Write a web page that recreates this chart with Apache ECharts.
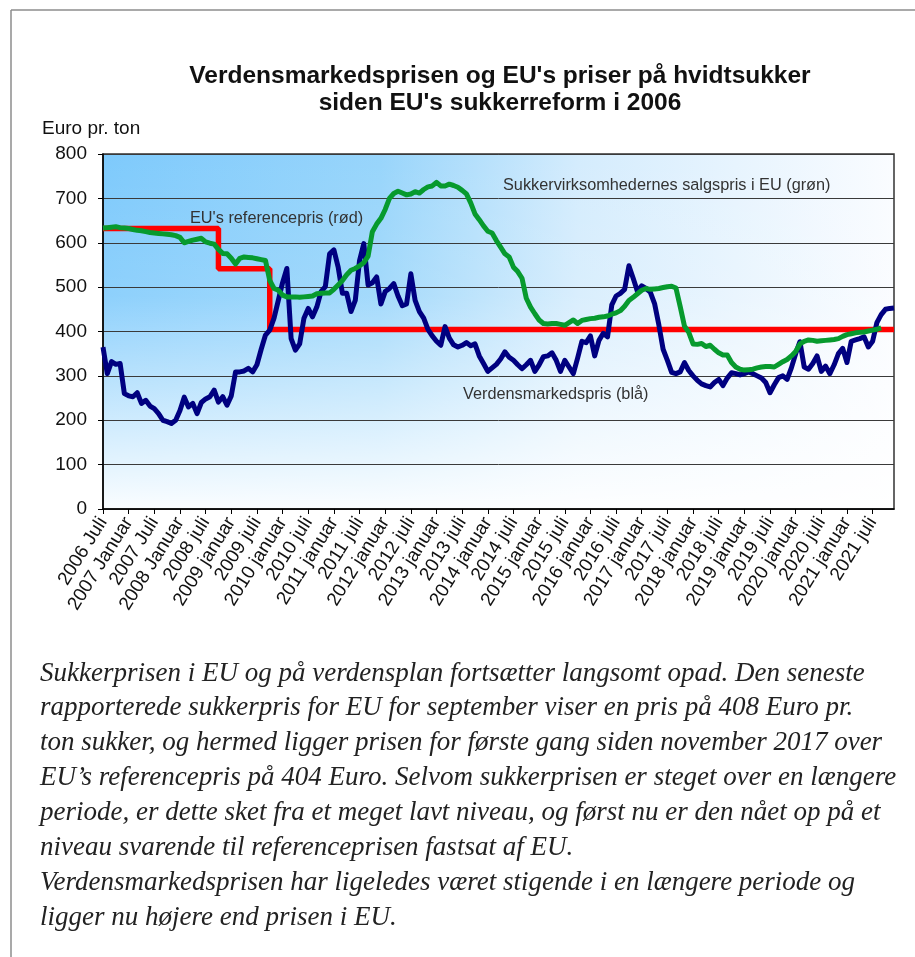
<!DOCTYPE html>
<html>
<head>
<meta charset="utf-8">
<title>Sukkerpriser</title>
<script src="https://cdn.jsdelivr.net/npm/echarts@6/dist/echarts.min.js"></script>
<style>
  body { margin: 0; background: #fff; }
  #main { width: 915px; height: 957px; }
</style>
</head>
<body>
<div id="main"></div>
<script>
// månedlige kategorier fra 2006 juli til 2021 december
var firstYear = 2006, firstMonth = 7, monthCount = 186;
var categories = [];
for (var i = 0; i < monthCount; i++) {
  var mm = firstMonth - 1 + i;
  var y = firstYear + Math.floor(mm / 12);
  var m = (mm % 12) + 1;
  categories.push(y + '-' + (m < 10 ? '0' + m : m));
}

// tekst under hver 6. måned
var tickLabels = [
  '2006 Juli', '2007 Januar', '2007 Juli', '2008 Januar', '2008 juli',
  '2009 januar', '2009 juli', '2010 januar', '2010 juli', '2011 januar',
  '2011 juli', '2012 januar', '2012 juli', '2013 januar', '2013 juli',
  '2014 januar', '2014 juli', '2015 januar', '2015 juli', '2016 januar',
  '2016 juli', '2017 januar', '2017 juli', '2018 januar', '2018 juli',
  '2019 januar', '2019 juli', '2020 januar', '2020 juli', '2021 januar',
  '2021 juli'
];

// Verdensmarkedspris (blå), euro pr. ton
var worldPrice = [
  365, 305, 332, 326, 328, 260, 255, 253, 262, 238,
  245, 232, 226, 215, 200, 197, 193, 200, 222, 252,
  230, 238, 215, 240, 248, 253, 268, 241, 253, 234,
  255, 309, 309, 311, 317, 309, 325, 360, 392, 403,
  430, 470, 510, 542, 384, 358, 372, 430, 452, 433,
  455, 490, 501, 575, 584, 545, 486, 486, 445, 470,
  560, 598, 505, 510, 523, 462, 490, 497, 508, 480,
  458, 462, 530, 470, 445, 430, 405, 390, 378, 369,
  411, 385, 370, 365, 369, 375, 368, 372, 345, 328,
  310, 318, 326, 338, 354, 342, 335, 325, 316, 325,
  335, 310, 325, 343, 345, 352, 335, 310, 335, 320,
  305, 340, 378, 375, 390, 345, 380, 396, 388, 460,
  480, 486, 495, 548, 520, 490, 503, 497, 489, 463,
  415, 360, 335, 308, 305, 309, 330, 312, 300, 290,
  282, 278, 275, 285, 292, 278, 295, 307, 305, 302,
  305, 309, 305, 300, 295, 285, 262, 280, 296, 300,
  292, 318, 350, 377, 320, 315, 328, 345, 310, 322,
  305, 325, 350, 362, 330, 378, 381, 384, 388, 365,
  378, 420, 438, 450, 452, 453
];

// Sukkervirksomhedernes salgspris i EU (grøn)
var euSalesPrice = [
  633, 634, 635, 636, 634, 633, 632, 630, 628, 627,
  625, 623, 622, 621, 620, 619, 618, 616, 612, 600,
  603, 606, 608, 610, 602, 599, 597, 585, 576, 575,
  565, 552, 565, 568, 567, 566, 564, 562, 560, 515,
  497, 493, 482, 478, 478, 478, 477, 478, 479, 480,
  485, 486, 487, 487, 495, 505, 515, 528, 538, 542,
  548, 555, 570, 625, 642, 655, 675, 700, 711, 716,
  712, 708, 710, 715, 712, 720, 726, 728, 736, 728,
  728, 732, 729, 725, 718, 710, 690, 665, 652, 638,
  626, 622, 605, 590, 575, 568, 545, 535, 520, 475,
  455, 440, 426, 418, 417, 418, 418, 416, 414, 420,
  426, 418, 425, 427, 429, 430, 432, 433, 435, 439,
  442, 447, 457, 470, 477, 485, 493, 497, 495, 496,
  497, 499, 501, 502, 498, 456, 412, 398, 372, 371,
  373, 366, 369, 360, 352, 347, 347, 330, 320, 315,
  313, 314, 315, 318, 320, 321, 321, 320, 326, 332,
  337, 345, 355, 372, 378, 381, 380, 378, 379, 380,
  381, 382, 384, 389, 393, 395, 397, 398, 399, 401,
  403, 405, 408
];

// EU's referencepris (rød): niveau fra og med måned
var refMonths = ['2006-07', '2008-10', '2009-10', '2021-12'];
var refPrices = [631.9, 541.5, 404.4, 404.4];

var noteLines = [
  'Sukkerprisen i EU og på verdensplan fortsætter langsomt opad. Den seneste',
  'rapporterede sukkerpris for EU for september viser en pris på 408 Euro pr.',
  'ton sukker, og hermed ligger prisen for første gang siden november 2017 over',
  'EU\u2019s referencepris på 404 Euro. Selvom sukkerprisen er steget over en længere',
  'periode, er dette sket fra et meget lavt niveau, og først nu er den nået op på et',
  'niveau svarende til referenceprisen fastsat af EU.',
  'Verdensmarkedsprisen har ligeledes været stigende i en længere periode og',
  'ligger nu højere end prisen i EU.'
];

var refData = refMonths.map(function (c, i) { return [c, refPrices[i]]; });

var G = { left: 103, top: 154, width: 791, height: 355 };
var font = 'Liberation Sans, Arial, sans-serif';

var chart = echarts.init(document.getElementById('main'));
var option = {
  animation: false,
  title: {
    text: "Verdensmarkedsprisen og EU's priser på hvidtsukker\nsiden EU's sukkerreform i 2006",
    left: 495,
    top: 58,
    textAlign: 'center',
    textStyle: { fontFamily: font, fontSize: 24.5, fontWeight: 'bold', color: '#111', lineHeight: 27 }
  },
  grid: {
    left: G.left, top: G.top, width: G.width, height: G.height,
    show: true, backgroundColor: 'transparent', borderColor: '#333', borderWidth: 1.5
  },
  graphic: [
    // ramme
    { type: 'line', shape: { x1: 11, y1: 10, x2: 915, y2: 10 }, style: { stroke: '#8c8c8c', lineWidth: 1.5 } },
    { type: 'line', shape: { x1: 11, y1: 10, x2: 11, y2: 957 }, style: { stroke: '#8c8c8c', lineWidth: 1.5 } },
    // baggrund i plotområdet
    {
      type: 'rect', z: -10, silent: true,
      shape: { x: G.left, y: G.top, width: G.width, height: G.height },
      style: {
        fill: new echarts.graphic.LinearGradient(0, 0, 1, 0, [
          { offset: 0, color: '#7ECAFC' },
          { offset: 0.35, color: '#98D5FB' },
          { offset: 0.6, color: '#D4ECFD' },
          { offset: 1, color: '#FAFCFF' }
        ])
      }
    },
    {
      type: 'rect', z: -9, silent: true,
      shape: { x: G.left, y: G.top, width: G.width, height: G.height },
      style: {
        fill: new echarts.graphic.LinearGradient(0, 0, 0, 1, [
          { offset: 0, color: 'rgba(255,255,255,0)' },
          { offset: 0.4, color: 'rgba(255,255,255,0.12)' },
          { offset: 0.7, color: 'rgba(255,255,255,0.55)' },
          { offset: 1, color: 'rgba(255,255,255,0.96)' }
        ])
      }
    },
    { type: 'text', left: 42, top: 119, style: { text: 'Euro pr. ton', font: '19px ' + font, fill: '#111' } },
    { type: 'text', z: 5, left: 190, top: 211, style: { text: "EU's referencepris (rød)", font: '16.3px ' + font, fill: '#333' } },
    { type: 'text', z: 5, left: 503, top: 178, style: { text: 'Sukkervirksomhedernes salgspris i EU (grøn)', font: '16.3px ' + font, fill: '#333' } },
    { type: 'text', z: 5, left: 463, top: 387, style: { text: 'Verdensmarkedspris (blå)', font: '16.3px ' + font, fill: '#333' } },
    {
      type: 'text', left: 40, top: 656,
      style: {
        text: noteLines.join('\n'),
        font: 'italic 27px "Liberation Serif", "Times New Roman", serif',
        lineHeight: 34.9,
        fill: '#222'
      }
    }
  ],
  xAxis: {
    type: 'category',
    data: categories,
    boundaryGap: false,
    axisLine: { lineStyle: { color: '#000', width: 1.5 } },
    axisTick: { interval: 5, length: 5, lineStyle: { color: '#000' } },
    axisLabel: {
      interval: 5,
      rotate: 58,
      margin: 10,
      fontFamily: font,
      fontSize: 19,
      color: '#111',
      formatter: function (v, idx) { return tickLabels[Math.round(idx / 6)] || ''; }
    },
    splitLine: { show: false }
  },
  yAxis: {
    type: 'value',
    min: 0, max: 800, interval: 100,
    axisLine: { show: true, lineStyle: { color: '#000', width: 1.5 } },
    axisTick: { show: true, length: 5, lineStyle: { color: '#000' } },
    axisLabel: { margin: 16, fontFamily: font, fontSize: 19, color: '#111' },
    splitLine: { lineStyle: { color: '#3a3a3a', width: 1 } }
  },
  series: [
    {
      name: "EU's referencepris",
      type: 'line',
      step: 'end',
      data: refData,
      symbol: 'none',
      lineStyle: { color: '#FF0000', width: 5.5 }
    },
    {
      name: 'Verdensmarkedspris',
      type: 'line',
      data: worldPrice,
      symbol: 'none',
      lineStyle: { color: '#000080', width: 5, join: 'round' }
    },
    {
      name: 'Sukkervirksomhedernes salgspris i EU',
      type: 'line',
      data: euSalesPrice,
      symbol: 'none',
      lineStyle: { color: '#079A2E', width: 5, join: 'round' }
    }
  ]
};
chart.setOption(option);
</script>
</body>
</html>
